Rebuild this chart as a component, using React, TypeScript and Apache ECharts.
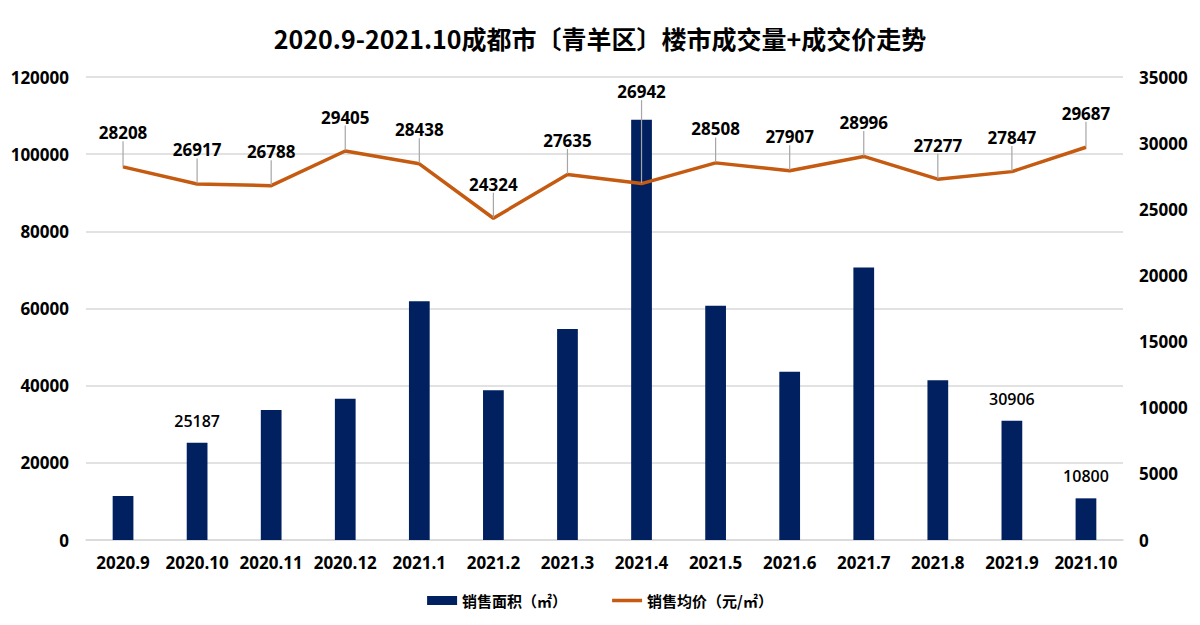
import React, { useEffect, useRef } from "react";
import * as echarts from "echarts";

const categories = ["2020.9", "2020.10", "2020.11", "2020.12", "2021.1", "2021.2", "2021.3", "2021.4", "2021.5", "2021.6", "2021.7", "2021.8", "2021.9", "2021.10"];
const areaValues = [11400, 25187, 33700, 36600, 61900, 38800, 54700, 108900, 60700, 43600, 70600, 41400, 30906, 10800];
const priceValues = [28208, 26917, 26788, 29405, 28438, 24324, 27635, 26942, 28508, 27907, 28996, 27277, 27847, 29687];
const labeledBars = [1, 12, 13];
const leftTicks = { min: 0, max: 120000, interval: 20000 };
const rightTicks = { min: 0, max: 35000, interval: 5000 };

const FONT = "'Open Sans', 'Noto Sans CJK SC', sans-serif";
const CJK = "'Noto Sans CJK SC', sans-serif";

export default function App() {
  const ref = useRef<HTMLDivElement>(null);
  useEffect(() => {
    if (!ref.current) return;
    const chart = echarts.init(ref.current, null, { renderer: "svg" });
    chart.setOption({
      animation: false,
      backgroundColor: "#fff",
      textStyle: { fontFamily: FONT },
      title: {
        text: "2020.9-2021.10成都市〔青羊区〕楼市成交量+成交价走势",
        left: "center",
        top: 20,
        textStyle: { fontSize: 25, fontWeight: "bold", color: "#000", fontFamily: CJK },
      },
      legend: {
        bottom: 12,
        left: "center",
        itemGap: 45,
        itemWidth: 30,
        itemHeight: 9,
        textStyle: { fontSize: 15, fontWeight: "bold", color: "#000", fontFamily: CJK },
        data: [
          { name: "销售面积（㎡）", icon: "rect" },
          { name: "销售均价（元/㎡）", icon: "path://M0,0 L34,0 L34,4 L0,4 Z", itemStyle: { color: "#C55A11" } },
        ],
      },
      grid: { left: 86, right: 77, top: 77, bottom: 85 },
      xAxis: {
        type: "category",
        data: categories,
        axisLine: { lineStyle: { color: "#d9d9d9", width: 1.5 } },
        axisTick: { show: false },
        axisLabel: { color: "#000", fontSize: 17, fontWeight: "bold", margin: 14, interval: 0 },
      },
      yAxis: [
        {
          type: "value",
          ...leftTicks,
          axisLine: { show: false },
          axisTick: { show: false },
          splitLine: { lineStyle: { color: "#d9d9d9", width: 1.5 } },
          axisLabel: { color: "#000", fontSize: 17, fontWeight: "bold", margin: 17, formatter: (v: number) => String(v) },
        },
        {
          type: "value",
          ...rightTicks,
          axisLine: { show: false },
          axisTick: { show: false },
          splitLine: { show: false },
          axisLabel: { color: "#000", fontSize: 17, fontWeight: "bold", margin: 16, formatter: (v: number) => String(v) },
        },
      ],
      series: [
        {
          name: "销售面积（㎡）",
          type: "bar",
          yAxisIndex: 0,
          barWidth: "28%",
          itemStyle: { color: "#002060" },
          data: areaValues.map((v, i) => ({
            value: v,
            label: {
              show: labeledBars.includes(i),
              position: "top",
              distance: 14,
              color: "#000",
              fontSize: 16,
              fontWeight: 600,
            },
          })),
        },
        {
          name: "销售均价（元/㎡）",
          type: "line",
          yAxisIndex: 1,
          symbol: "circle",
          symbolSize: 1,
          showSymbol: true,
          lineStyle: { color: "#C55A11", width: 3.5 },
          itemStyle: { color: "#C55A11" },
          label: {
            show: true,
            position: "top",
            distance: 5,
            color: "#000",
            fontSize: 17,
            fontWeight: "bold",
            formatter: (p: any) => String(p.value),
          },
          labelLine: { show: true, lineStyle: { color: "#a6a6a6", width: 1.2 } },
          labelLayout: (p: any) => ({ dy: p.dataIndex === 7 ? -78 : -20 }),
          data: priceValues,
        },
      ],
    });
    return () => chart.dispose();
  }, []);
  return <div ref={ref} style={{ width: 1200, height: 625, position: "absolute", left: 0, top: 0 }} />;
}
